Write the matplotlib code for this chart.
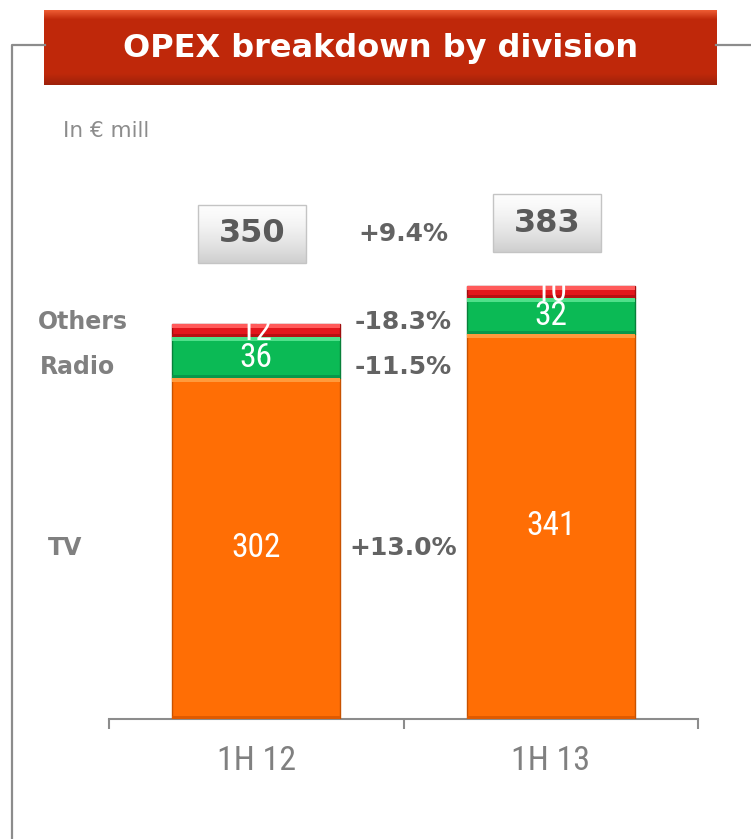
import numpy as np
import matplotlib
matplotlib.use("Agg")
import matplotlib.pyplot as plt
from matplotlib.patches import Rectangle
from matplotlib.lines import Line2D
from matplotlib.transforms import blended_transform_factory

# data
periods = ["1H 12", "1H 13"]
tv = [302, 341]
radio = [36, 32]
others = [12, 10]
totals = [350, 383]
divisions = ["TV", "Radio", "Others"]
div_changes = ["+13.0%", "-11.5%", "-18.3%"]
total_change = "+9.4%"

W, H = 751, 839
fig = plt.figure(figsize=(W / 100, H / 100), dpi=100)

def fx(px):
    return px / W

def fy(py):
    return 1 - py / H

narrow = ["Roboto Condensed", "DejaVu Sans"]
grey_lbl = "#808080"
grey_pct = "#636363"

# frame lines around the panel
fig.add_artist(Line2D([fx(12), fx(12), fx(45)], [fy(839), fy(45), fy(45)],
                      color="#8c8c8c", lw=1.6))
fig.add_artist(Line2D([fx(716), fx(751)], [fy(45), fy(45)], color="#8c8c8c", lw=1.6))

# title banner with a simple vertical gradient
tax = fig.add_axes([fx(44), fy(85), fx(717) - fx(44), fy(10) - fy(85)])
top = np.array([0.93, 0.36, 0.20])
mid = np.array([0.75, 0.16, 0.04])
bot = np.array([0.62, 0.13, 0.04])
rows = []
for g in np.linspace(0, 1, 100):
    if g < 0.12:
        c = top + (mid - top) * g / 0.12
    elif g < 0.85:
        c = mid
    else:
        c = mid + (bot - mid) * (g - 0.85) / 0.15
    rows.append(c)
img = np.array(rows).reshape(100, 1, 3)
tax.imshow(img, aspect="auto", extent=[0, 1, 0, 1])
tax.set_xlim(0, 1)
tax.set_ylim(0, 1)
tax.axis("off")
tax.text(0.5, 0.48, "OPEX breakdown by division", color="white", fontsize=23,
         fontweight="bold", ha="center", va="center", family="DejaVu Sans")

fig.text(fx(63), fy(131), "In € mill", color="#8c8c8c", fontsize=15.5, va="center")

# main axes: baseline at y=719 px, spanning x 109..698
ax = fig.add_axes([fx(109), fy(719), fx(698) - fx(109), fy(160) - fy(719)])
ax.set_xlim(-0.5, 1.5)
ax.set_ylim(0, 495)
x = np.arange(len(periods))
bw = 0.57
px_per_unit = (719 - 160) / 495

segments = [(tv, "#FF6E05", "#C85200", "#FF9A3C", "#E05A00"),
            (radio, "#0BBA55", "#07803A", "#4FE08A", "#08974A"),
            (others, "#E3161C", "#9E0E0E", "#FF5A5A", "#B80F12")]
bottom = np.zeros(len(periods))
band = 4 / px_per_unit
dark = 3 / px_per_unit
for vals, col, edge, light, shade in segments:
    vals = np.array(vals)
    ax.bar(x, vals, bw, bottom=bottom, color=col, edgecolor=edge, linewidth=1.0, zorder=3)
    # bevel: lighter strip on top, darker strip at the bottom of each segment
    ax.bar(x, band, bw, bottom=bottom + vals - band, color=light, linewidth=0, zorder=3.5)
    ax.bar(x, dark, bw, bottom=bottom, color=shade, linewidth=0, zorder=3.5)
    for xi, b, v in zip(x, bottom, vals):
        ax.text(xi, b + v / 2, str(v), color="white", fontsize=24, ha="center",
                va="center", family=narrow, zorder=5)
    bottom = bottom + vals

# total boxes above the bars
box_off = [90, 63]  # pixel offsets above bar tops
for xi, t, off in zip(x, totals, box_off):
    yc = t + off / px_per_unit
    xc = xi - 4 / 294.5
    hw = 54 / 294.5
    hh = 29 / px_per_unit
    g = np.linspace(0, 1, 50).reshape(-1, 1)
    shade = 0.99 - 0.18 * g ** 1.5
    ax.imshow(np.dstack([shade, shade, shade]), aspect="auto",
              extent=[xc - hw, xc + hw, yc - hh, yc + hh], zorder=4, clip_on=False)
    ax.add_patch(Rectangle((xc - hw, yc - hh), 2 * hw, 2 * hh, fill=False,
                           edgecolor="#c4c4c4", lw=1.0, zorder=4, clip_on=False))
    ax.text(xc, yc, str(t), color="#5a5a5a", fontsize=23, fontweight="bold",
            ha="center", va="center", zorder=6, clip_on=False)
ax.set_xlim(-0.5, 1.5)
ax.set_ylim(0, 495)

# growth labels between the bars and division names on the left
first = [tv[0], radio[0], others[0]]
offs = [0, -9, 9]
label_x = [48, 40, 38]
b = 0
fig_tr = blended_transform_factory(fig.transFigure, ax.transData)
for name, chg, v, o, lx in zip(divisions, div_changes, first, offs, label_x):
    yc = b + v / 2 + o / px_per_unit
    ax.text(0.5, yc, chg, color=grey_pct, fontsize=18, fontweight="bold",
            ha="center", va="center")
    ax.text(fx(lx), yc, name, color=grey_lbl, fontsize=17, fontweight="bold",
            ha="left", va="center", transform=fig_tr)
    b += v
ax.text(0.5, totals[0] + box_off[0] / px_per_unit, total_change, color=grey_pct,
        fontsize=18, fontweight="bold", ha="center", va="center")

# axis styling
for s in ["top", "right", "left"]:
    ax.spines[s].set_visible(False)
ax.spines["bottom"].set_color("#8c8c8c")
ax.spines["bottom"].set_linewidth(1.5)
ax.set_yticks([])
ax.set_xticks(x)
ax.set_xticklabels(periods, fontsize=24.5, color="#808080", family=narrow)
ax.tick_params(axis="x", which="major", length=0, pad=19)
ax.set_xticks([-0.5, 0.5, 1.5], minor=True)
ax.tick_params(axis="x", which="minor", length=7, width=1.5, color="#8c8c8c", direction="out")

fig.savefig("out.png", dpi=100)
